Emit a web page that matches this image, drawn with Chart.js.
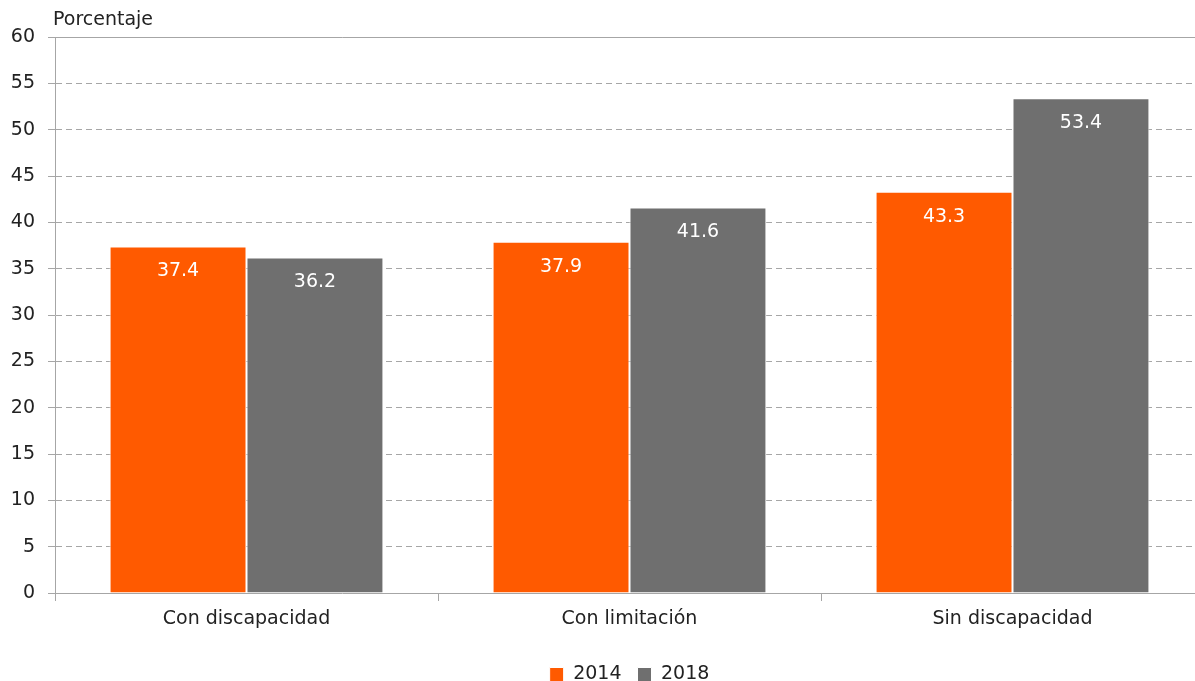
<!DOCTYPE html>
<html>
<head>
<meta charset="utf-8">
<script src="https://cdn.jsdelivr.net/npm/chart.js@4.4.0/dist/chart.umd.min.js"></script>
<style>
  html, body { margin: 0; background: #fff; overflow: hidden; }
  /* the plot runs a few pixels past the right edge of the window in the reference */
  .chart-box { width: 1204px; height: 681px; position: relative; }
</style>
</head>
<body>
<div class="chart-box"><canvas id="chart"></canvas></div>
<script>
// data
const categories = ["Con discapacidad", "Con limitación", "Sin discapacidad"];
const seriesNames = ["2014", "2018"];
const values2014 = [37.4, 37.9, 43.3];
const values2018 = [36.2, 41.6, 53.4];
const yTicks = [0, 5, 10, 15, 20, 25, 30, 35, 40, 45, 50, 55, 60];

const fontFamily = "'DejaVu Sans', sans-serif";
const fontSize = 19;
const gridColor = "#a6a6a6";
const textColor = "#222222";

// writes the value inside each bar, just below its top
const barValues = {
  id: "barValues",
  afterDatasetsDraw(chart) {
    const ctx = chart.ctx;
    ctx.save();
    ctx.font = fontSize + "px " + fontFamily;
    ctx.fillStyle = "#ffffff";
    ctx.textAlign = "center";
    ctx.textBaseline = "middle";
    chart.data.datasets.forEach((ds, i) => {
      chart.getDatasetMeta(i).data.forEach((bar, j) => {
        ctx.fillText(ds.data[j].toFixed(1), bar.x, bar.y + 25);
      });
    });
    ctx.restore();
  },
};

// axis title above the y axis and the solid line at the top of the plot
const extras = {
  id: "extras",
  afterDraw(chart) {
    const { ctx, chartArea } = chart;
    ctx.save();
    ctx.strokeStyle = gridColor;
    ctx.lineWidth = 1;
    ctx.beginPath();
    ctx.moveTo(chartArea.left, chartArea.top + 0.5);
    ctx.lineTo(chartArea.right, chartArea.top + 0.5);
    ctx.stroke();
    ctx.font = fontSize + "px " + fontFamily;
    ctx.fillStyle = textColor;
    ctx.textAlign = "left";
    ctx.textBaseline = "middle";
    ctx.fillText("Porcentaje", chartArea.left - 2, 20);
    ctx.restore();
  },
};

new Chart(document.getElementById("chart"), {
  type: "bar",
  data: {
    labels: categories,
    datasets: [
      {
        label: seriesNames[0],
        data: values2014,
        backgroundColor: "#ff5a00",
        borderColor: "#ffffff",
        borderWidth: 1,
      },
      {
        label: seriesNames[1],
        data: values2018,
        backgroundColor: "#6f6f6f",
        borderColor: "#ffffff",
        borderWidth: 1,
      },
    ],
  },
  options: {
    responsive: true,
    maintainAspectRatio: false,
    animation: false,
    layout: { padding: { top: 37, right: 0, left: 0, bottom: -13 } },
    datasets: { bar: { categoryPercentage: 0.715, barPercentage: 1 } },
    scales: {
      x: {
        afterFit: (scale) => {
          scale.height = 56;
        },
        grid: {
          drawOnChartArea: false,
          tickLength: 8,
          color: gridColor,
        },
        border: { color: gridColor, width: 1 },
        ticks: { color: textColor, font: { family: fontFamily, size: fontSize }, padding: 7 },
      },
      y: {
        min: 0,
        max: 60,
        afterBuildTicks: (scale) => {
          scale.ticks = yTicks.map((v) => ({ value: v }));
        },
        afterFit: (scale) => {
          scale.width = 55;
        },
        grid: { color: gridColor, tickLength: 7 },
        border: { color: gridColor, width: 1, dash: [6, 4] },
        ticks: { color: textColor, font: { family: fontFamily, size: fontSize }, padding: 13 },
      },
    },
    plugins: {
      legend: {
        position: "bottom",
        fullSize: false,
        labels: {
          boxWidth: 14,
          boxHeight: 14,
          padding: 16,
          color: textColor,
          font: { family: fontFamily, size: fontSize },
        },
      },
      tooltip: { enabled: false },
    },
  },
  plugins: [barValues, extras],
});
</script>
</body>
</html>
